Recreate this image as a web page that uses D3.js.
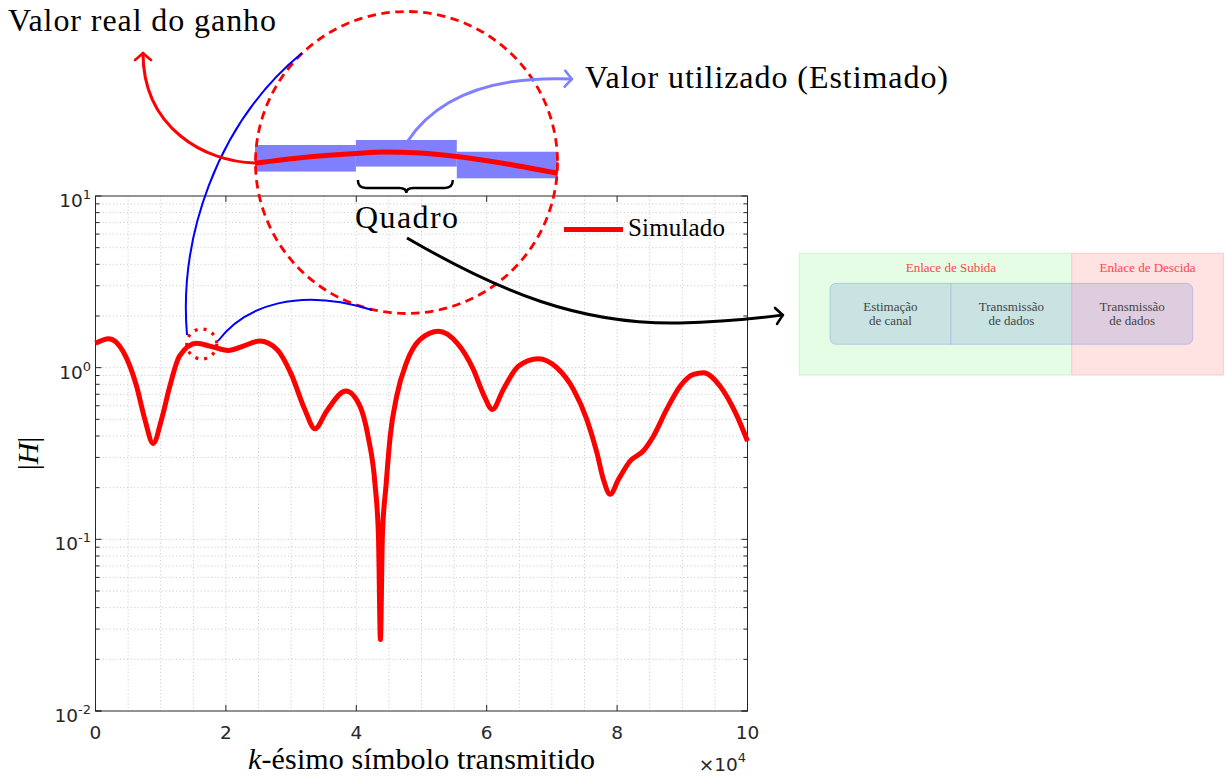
<!DOCTYPE html>
<html>
<head>
<meta charset="utf-8">
<script src="https://cdn.jsdelivr.net/npm/d3@7"></script>
<style>
  body { margin: 0; background: #fff; }
  svg { display: block; }
</style>
</head>
<body>
<svg id="chart" width="1227" height="776"></svg>
<script>
// |H| along the transmitted symbols
const kValues = [0, 2040, 4200, 6300, 7570, 8840, 10130, 11400, 12900, 15500, 17540, 20350,
  22650, 25200, 27800, 30000, 32100, 33660, 35450, 38400, 40560, 41800, 42900, 43400,
  43700, 44000, 44550, 45200, 46200, 47700, 49800, 52600, 55400, 57950, 59500, 60870,
  62550, 64850, 67900, 70750, 73300, 75350, 76900, 77900, 78950, 80200, 82000, 84000,
  85570, 87600, 89670, 91700, 93250, 95800, 98400, 100000];
const gainValues = [1.386, 1.476, 1.25, 0.78, 0.50, 0.362, 0.50, 0.78, 1.17, 1.386, 1.336, 1.26,
  1.336, 1.43, 1.28, 0.92, 0.571, 0.441, 0.558, 0.731, 0.597, 0.399, 0.204, 0.104,
  0.0261, 0.104, 0.204, 0.399, 0.683, 1.07, 1.46, 1.63, 1.40, 0.977, 0.699, 0.571,
  0.747, 1.02, 1.128, 1.0, 0.747, 0.5, 0.32, 0.223, 0.183, 0.223, 0.286, 0.327,
  0.399, 0.571, 0.78, 0.914, 0.935, 0.78, 0.522, 0.373];
const xTickValues = [0, 20000, 40000, 60000, 80000, 100000];
const xTickLabels = ['0', '2', '4', '6', '8', '10'];
const yDecades = [-2, -1, 0, 1];
const seriesName = 'Simulado';

// magnified piece of the curve inside the dashed circle (3 frames)
const insetPos = [0, 0.475, 1, 1.27, 1.64, 2, 2.5, 3];
const insetGain = [1.3626, 1.3844, 1.3994, 1.405, 1.4012, 1.3881, 1.36, 1.3251];
const frameEstimates = [1.3814, 1.4001, 1.3562];

// frame structure
const linkNames = ['Enlace de Subida', 'Enlace de Descida'];
const slotLines = [['Estimação', 'de canal'], ['Transmissão', 'de dados'], ['Transmissão', 'de dados']];

const svg = d3.select('#chart');
const SERIF = '"Liberation Serif", "Times New Roman", serif';
const SANS = '"DejaVu Sans", sans-serif';

const x = d3.scaleLinear().domain([0, 100000]).range([95.5, 747.5]);
const y = d3.scaleLog().domain([0.01, 10]).range([711, 196]);

function serifText(str, px, py, size, width, anchor) {
  const t = svg.append('text')
    .attr('x', px).attr('y', py)
    .attr('font-family', SERIF)
    .attr('font-size', size)
    .attr('fill', '#000')
    .attr('text-anchor', anchor || 'start')
    .text(str);
  if (width) t.attr('textLength', width).attr('lengthAdjust', 'spacing');
  return t;
}

// grid
const grid = svg.append('g').attr('stroke', '#cfcfcf').attr('stroke-width', 1)
  .attr('stroke-dasharray', '1.2,2.3');
d3.range(5000, 100000, 5000).forEach(v => {
  grid.append('line').attr('x1', x(v)).attr('x2', x(v)).attr('y1', 196).attr('y2', 711);
});
const yGridVals = [];
yDecades.slice(0, 3).forEach(d => d3.range(1, 10).forEach(m => yGridVals.push(m * Math.pow(10, d))));
yGridVals.push(10);
yGridVals.forEach(v => {
  if (v === 0.01 || v === 10) return;
  grid.append('line').attr('x1', 95.5).attr('x2', 747.5).attr('y1', y(v)).attr('y2', y(v));
});

// axes box + ticks
const axisColor = '#262626';
svg.append('rect').attr('x', 95.5).attr('y', 196).attr('width', 652).attr('height', 515)
  .attr('fill', 'none').attr('stroke', axisColor).attr('stroke-width', 1);

const ticks = svg.append('g').attr('stroke', axisColor).attr('stroke-width', 1);
xTickValues.forEach(v => {
  ticks.append('line').attr('x1', x(v)).attr('x2', x(v)).attr('y1', 711).attr('y2', 705);
  ticks.append('line').attr('x1', x(v)).attr('x2', x(v)).attr('y1', 196).attr('y2', 202);
});
yGridVals.concat([0.01]).forEach(v => {
  const major = Math.abs(Math.log10(v) - Math.round(Math.log10(v))) < 1e-9;
  const len = major ? 6 : 4;
  ticks.append('line').attr('x1', 95.5).attr('x2', 95.5 + len).attr('y1', y(v)).attr('y2', y(v));
  ticks.append('line').attr('x1', 747.5).attr('x2', 747.5 - len).attr('y1', y(v)).attr('y2', y(v));
});

// tick labels
xTickValues.forEach((v, i) => {
  svg.append('text').attr('x', x(v)).attr('y', 739)
    .attr('font-family', SANS).attr('font-size', 18.5).attr('fill', axisColor)
    .attr('text-anchor', 'middle').text(xTickLabels[i]);
});
yDecades.forEach(d => {
  const t = svg.append('text').attr('x', 91).attr('y', y(Math.pow(10, d)) + 11)
    .attr('font-family', SANS).attr('font-size', 18.5).attr('fill', axisColor)
    .attr('text-anchor', 'end');
  t.append('tspan').text('10');
  t.append('tspan').attr('dy', -8).attr('font-size', 13).text(d);
});
const mult = svg.append('text').attr('x', 746).attr('y', 771)
  .attr('font-family', SANS).attr('font-size', 18.5).attr('fill', axisColor)
  .attr('text-anchor', 'end');
mult.append('tspan').text('×10');
mult.append('tspan').attr('dy', -9).attr('font-size', 13).text('4');

// axis labels
const xl = svg.append('text').attr('x', 421.5).attr('y', 769)
  .attr('font-family', SERIF).attr('font-size', 30).attr('text-anchor', 'middle')
  .attr('textLength', 347).attr('lengthAdjust', 'spacing');
xl.append('tspan').attr('font-style', 'italic').text('k');
xl.append('tspan').text('-ésimo símbolo transmitido');

const yl = svg.append('text').attr('transform', 'translate(38,453.5) rotate(-90)')
  .attr('font-family', SERIF).attr('font-size', 30).attr('text-anchor', 'middle');
yl.append('tspan').text('|');
yl.append('tspan').attr('font-style', 'italic').text('H');
yl.append('tspan').text('|');

// main curve
const line = d3.line()
  .x((d, i) => x(kValues[i]))
  .y(d => y(d))
  .curve(d3.curveMonotoneX);
svg.append('path').datum(gainValues)
  .attr('d', line)
  .attr('fill', 'none').attr('stroke', '#ff0000').attr('stroke-width', 5)
  .attr('stroke-linejoin', 'round');

// legend
svg.append('line').attr('x1', 564).attr('x2', 623).attr('y1', 229.5).attr('y2', 229.5)
  .attr('stroke', '#ff0000').attr('stroke-width', 5);
serifText(seriesName, 628, 236, 25, 97);

// arrow markers
const defs = svg.append('defs');
function marker(id, color, w) {
  defs.append('marker').attr('id', id)
    .attr('viewBox', '-12 -12 24 24')
    .attr('markerUnits', 'userSpaceOnUse')
    .attr('markerWidth', 24).attr('markerHeight', 24)
    .attr('refX', 0).attr('refY', 0)
    .attr('orient', 'auto')
    .append('path').attr('d', 'M-7,-8 Q-2,-2 0,0 Q-2,2 -7,8')
    .attr('fill', 'none').attr('stroke', color).attr('stroke-width', w)
    .attr('stroke-linecap', 'round').attr('stroke-linejoin', 'round');
}
marker('arRed', '#ff0000', 2.6);
marker('arBlue', '#8080ff', 2.6);
marker('arBlack', '#000000', 2.6);

// inset: magnified curve with the per-frame estimates
const ix = d3.scaleLinear().domain([0, 3]).range([255, 557.7]);
const iy = d3.scaleLinear().domain([1.30, 1.45]).range([180, 140]);
svg.append('g').selectAll('rect').data(frameEstimates).enter().append('rect')
  .attr('x', (d, i) => ix(i))
  .attr('width', ix(1) - ix(0))
  .attr('y', d => iy(d) - 13.3)
  .attr('height', 26.6)
  .attr('fill', '#8080ff');
svg.append('path').datum(insetGain)
  .attr('d', d3.line().x((d, i) => ix(insetPos[i])).y(d => iy(d)).curve(d3.curveMonotoneX))
  .attr('fill', 'none').attr('stroke', '#ff0000').attr('stroke-width', 5);

// dashed magnifier + small dotted circle
svg.append('circle').attr('cx', 406.5).attr('cy', 162.5).attr('r', 151)
  .attr('fill', 'none').attr('stroke', '#ff0000').attr('stroke-width', 2.8)
  .attr('stroke-dasharray', '8.5,5.5');
svg.append('circle').attr('cx', x(16300)).attr('cy', 344).attr('r', 15)
  .attr('fill', 'none').attr('stroke', '#ff0000').attr('stroke-width', 3.2)
  .attr('stroke-dasharray', '3,6');

// blue connecting curves
svg.append('path').attr('d', 'M187,335 C179,240 215,125 302,53')
  .attr('fill', 'none').attr('stroke', '#0000ff').attr('stroke-width', 2);
svg.append('path').attr('d', 'M218,341 C245,305 300,287 372,310')
  .attr('fill', 'none').attr('stroke', '#0000ff').attr('stroke-width', 2);

// annotation arrows
svg.append('path').attr('d', 'M255,163 C205,162 143,128 143,53')
  .attr('fill', 'none').attr('stroke', '#ff0000').attr('stroke-width', 3)
  .attr('marker-end', 'url(#arRed)');
svg.append('path').attr('d', 'M407,142 C440,92 500,76 572,79')
  .attr('fill', 'none').attr('stroke', '#8080ff').attr('stroke-width', 3)
  .attr('marker-end', 'url(#arBlue)');
svg.append('path').attr('d', 'M407,238 C500,292 580,325 680,323 C730,322 760,318 783,315')
  .attr('fill', 'none').attr('stroke', '#000').attr('stroke-width', 3)
  .attr('marker-end', 'url(#arBlack)');

// brace under the middle frame
svg.append('path')
  .attr('d', `M${ix(1) + 2},180 Q${ix(1) + 2},188 ${ix(1) + 10},188 L${ix(1.5) - 7},188 Q${ix(1.5)},188 ${ix(1.5)},193 Q${ix(1.5)},188 ${ix(1.5) + 7},188 L${ix(2) - 12},188 Q${ix(2) - 4},188 ${ix(2) - 4},180`)
  .attr('fill', 'none').attr('stroke', '#000').attr('stroke-width', 2.4);

// annotation texts
serifText('Valor real do ganho', 8, 31, 32, 268);
serifText('Valor utilizado (Estimado)', 585, 88, 32, 363);
serifText('Quadro', 406.5, 228, 32, 103, 'middle');

// frame structure diagram
const slot = d3.scaleBand().domain(d3.range(slotLines.length)).range([830, 1192.7]);
svg.append('rect').attr('x', 799.3).attr('y', 253.3).attr('width', slot(2) - 799.3).attr('height', 121.7)
  .attr('fill', '#e5fde5').attr('stroke', '#cbf4cb').attr('stroke-width', 1);
svg.append('rect').attr('x', slot(2)).attr('y', 253.3).attr('width', 1223.3 - slot(2)).attr('height', 121.7)
  .attr('fill', '#ffe2e2').attr('stroke', '#ffcaca').attr('stroke-width', 1);
svg.append('rect').attr('x', 830).attr('y', 283.3).attr('width', 362.7).attr('height', 61)
  .attr('rx', 6).attr('fill', 'rgba(60,100,210,0.17)').attr('stroke', 'rgba(90,120,230,0.3)');
svg.append('line').attr('x1', slot(1)).attr('x2', slot(1)).attr('y1', 283.3).attr('y2', 344.3)
  .attr('stroke', 'rgba(90,120,230,0.3)');

const titleX = [(slot(0) + slot(2)) / 2, (slot(2) + 1223.3) / 2];
linkNames.forEach((n, i) => {
  svg.append('text').attr('x', titleX[i]).attr('y', 272)
    .attr('font-family', SERIF).attr('font-size', 13).attr('fill', '#ff4545')
    .attr('text-anchor', 'middle').text(n);
});
slotLines.forEach((ls, i) => {
  ls.forEach((s, j) => {
    svg.append('text').attr('x', slot(i) + slot.bandwidth() / 2).attr('y', 310.7 + j * 14.3)
      .attr('font-family', SERIF).attr('font-size', 13).attr('fill', '#444')
      .attr('text-anchor', 'middle').text(s);
  });
});
</script>
</body>
</html>
